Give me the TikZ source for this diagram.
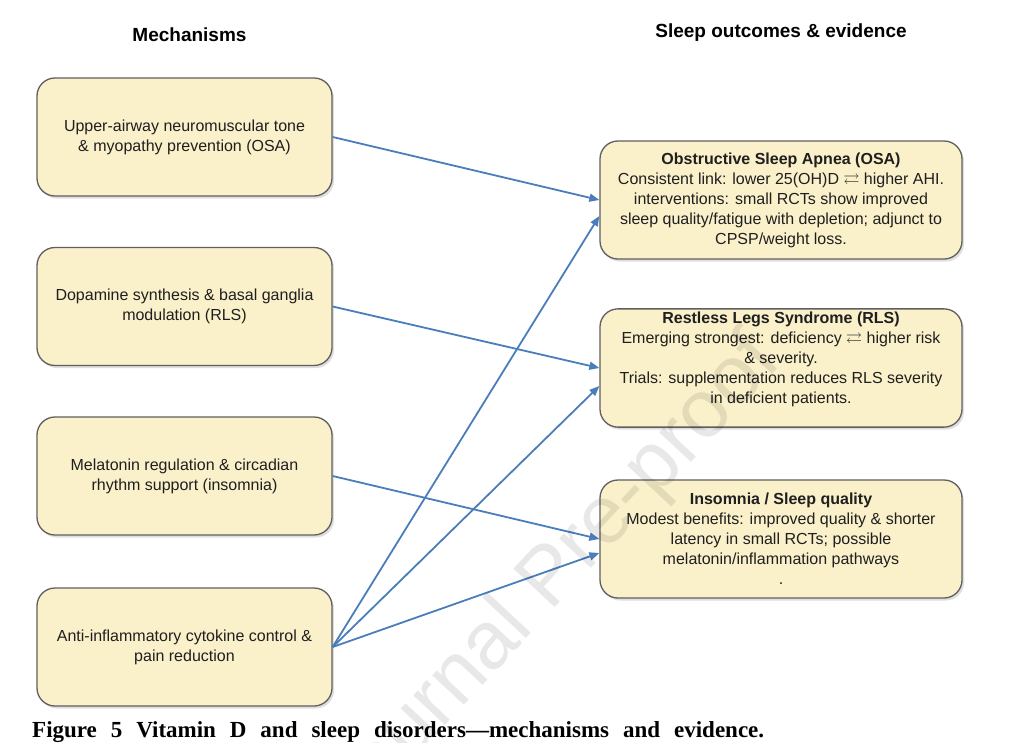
\documentclass[tikz,border=0pt]{standalone}
\usepackage{amssymb}
\usepackage{fontspec}
\setmainfont{Liberation Serif}
\setsansfont{Liberation Sans}
\usetikzlibrary{arrows.meta,shadows}
\definecolor{boxfill}{RGB}{250,240,202}
\definecolor{boxline}{RGB}{95,95,95}
\definecolor{linkblue}{RGB}{74,126,187}
\begin{document}
\begin{tikzpicture}[x=1pt,y=-1pt,
  mech/.style={draw=boxline, line width=1.3pt, fill=boxfill, rounded corners=18pt,
    minimum width=295pt, minimum height=118pt, align=center, text=black!88,
    font=\sffamily\fontsize{16}{20}\selectfont,
    drop shadow={shadow xshift=2pt, shadow yshift=-2.5pt, opacity=0.25}},
  outcome/.style={mech, minimum width=362pt},
  head/.style={font=\sffamily\bfseries\fontsize{19}{23}\selectfont},
  link/.style={draw=linkblue, line width=1.8pt, -{Triangle[length=10pt,width=8pt]}}]
\fill[white] (0,0) rectangle (1012,742);
\useasboundingbox (0,0) rectangle (1012,742);
% column heads
\node[head] (hmech) at (189.5,35) {Mechanisms};
\node[head] (hout) at (781,33) {Sleep outcomes \& evidence};
% mechanisms
\node[mech] (m1) at (184.5,137) {Upper-airway neuromuscular tone\\\& myopathy prevention (OSA)};
\node[mech] (m2) at (184.5,306.5) {Dopamine synthesis \& basal ganglia\\modulation (RLS)};
\node[mech] (m3) at (184.5,476) {Melatonin regulation \& circadian\\rhythm support (insomnia)};
\node[mech] (m4) at (184.5,647) {Anti-inflammatory cytokine control \&\\pain reduction};
% outcomes
\node[outcome] (osa) at (781,200) {\textbf{Obstructive Sleep Apnea (OSA)}\\Consistent link: lower 25(OH)D $\rightleftarrows$ higher AHI.\\interventions: small RCTs show improved\\sleep quality/fatigue with depletion; adjunct to\\CPSP/weight loss.};
\node[outcome] (rls) at (781,368) {\textbf{Restless Legs Syndrome (RLS)}\\Emerging strongest: deficiency $\rightleftarrows$ higher risk\\\& severity.\\Trials: supplementation reduces RLS severity\\in deficient patients.\\\mbox{}};
\node[outcome] (ins) at (781,539) {\textbf{Insomnia / Sleep quality}\\Modest benefits: improved quality \& shorter\\latency in small RCTs; possible\\melatonin/inflammation pathways\\.};
% links
\draw[link] (m1.east) -- (osa.west);
\draw[link] (m2.east) -- (rls.west);
\draw[link] (m3.east) -- (ins.west);
\draw[link] (m4.east) -- ([yshift=-16pt]osa.west);
\draw[link] (m4.east) -- ([yshift=-18pt]rls.west);
\draw[link] (m4.east) -- ([yshift=-14pt]ins.west);
% caption
\node[anchor=base west, inner sep=0pt, font=\bfseries\fontsize{23}{27}\selectfont] (cap) at (32,737)
  {\makebox[732pt][s]{Figure 5 Vitamin D and sleep disorders—mechanisms and evidence.}};
% watermark
\node[rotate=47, font=\sffamily\fontsize{82}{90}\selectfont, text=black, text opacity=0.09] (wm) at (552,580) {Journal Pre-proof};
\end{tikzpicture}
\end{document}
